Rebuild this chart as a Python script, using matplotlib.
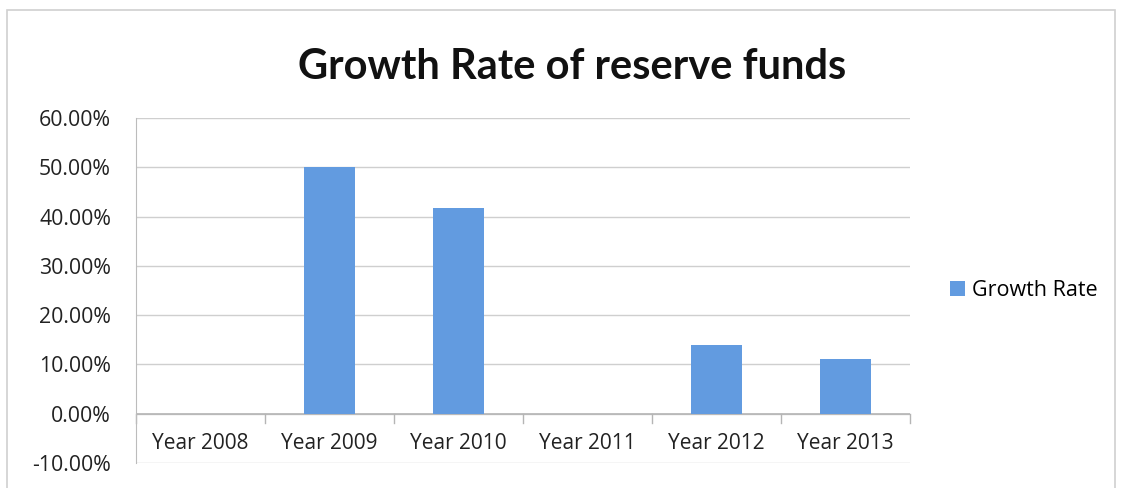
import numpy as np
import matplotlib.pyplot as plt
from matplotlib.ticker import FuncFormatter, MultipleLocator
from matplotlib.patches import Rectangle

years = ["Year 2008", "Year 2009", "Year 2010", "Year 2011", "Year 2012", "Year 2013"]
growth = [0.0, 0.50, 0.418, 0.0, 0.140, 0.112]
series_name = "Growth Rate"

bar_col = "#629be0"
grid_col = "#cfcfcf"
txt_col = "#222222"
fs = 15

plt.rcParams['font.family'] = ['Open Sans', 'DejaVu Sans']

fig = plt.figure(figsize=(11.22, 4.88), dpi=100)
ax = fig.add_axes([0.1212, 0.0512, 0.6898, 0.7070])

x = np.arange(len(years))
ax.bar(x, growth, width=0.4, color=bar_col, zorder=3, label=series_name)

ax.set_xlim(-0.5, len(years) - 0.5)
ax.set_ylim(-0.10, 0.60)
ax.yaxis.set_major_locator(MultipleLocator(0.10))
ax.yaxis.set_major_formatter(FuncFormatter(lambda v, p: "%.2f%%" % (v * 100)))
ax.grid(axis="y", color=grid_col, lw=1.0, zorder=0)
ax.tick_params(axis="y", length=0, pad=18, labelsize=fs + 0.3, colors=txt_col)
ax.set_xticks([])

for s in ["top", "right", "bottom"]:
    ax.spines[s].set_visible(False)
ax.spines["left"].set_color("#bcbcbc")

# zero axis with category boundary ticks, labels sit below it
ax.axhline(0, color="#b5b5b5", lw=1.2, zorder=2)
tick_len = 9 / (ax.get_position().height * fig.get_figheight() * fig.dpi) * 0.70
for b in np.arange(-0.5, len(years), 1.0):
    ax.plot([b, b], [0, -tick_len], color="#b5b5b5", lw=1.0, clip_on=False, zorder=2)
for i, name in enumerate(years):
    ax.text(i, -0.06, name, ha="center", va="center", fontsize=fs, color=txt_col)

fig.text(0.51, 0.862, "Growth Rate of reserve funds", ha="center", va="center",
         fontsize=30, fontweight="bold", color="#111111", family=["Lato", "DejaVu Sans"])

ax.legend(loc="center left", bbox_to_anchor=(1.052, 0.5), frameon=False,
          borderaxespad=0, borderpad=0, fontsize=fs + 0.5,
          handlelength=0.68, handleheight=0.68, handletextpad=0.32)

# chart frame
fig.patches.append(Rectangle((0.006, -0.05), 0.988, 1.03, transform=fig.transFigure,
                             fill=False, edgecolor="#d0d0d0", lw=1.2))

fig.savefig("out.png", dpi=100)
